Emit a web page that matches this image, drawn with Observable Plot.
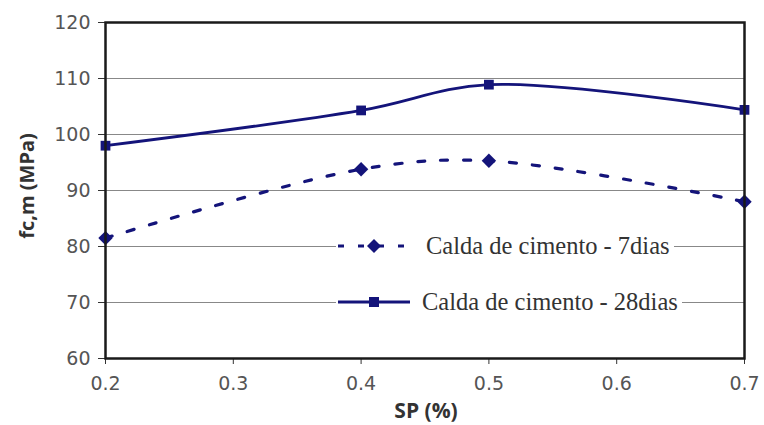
<!DOCTYPE html>
<html>
<head>
<meta charset="utf-8">
<script src="https://cdn.jsdelivr.net/npm/d3@7"></script>
<script src="https://cdn.jsdelivr.net/npm/@observablehq/plot@0.6"></script>
<style>
  body { margin: 0; background: #fff; }
  #wrap { position: relative; width: 764px; height: 425px; overflow: hidden; }
  .axlab { position: absolute; font-family: "Open Sans", sans-serif; font-weight: bold; color: #333; white-space: nowrap; line-height: 1; }
  .leg { position: absolute; display: flex; align-items: center; background: #fff; font-family: "Liberation Serif", "Times New Roman", serif; font-size: 24.5px; color: #333; white-space: nowrap; padding-right: 4px; }
  .leg svg { margin-right: 12px; }
</style>
</head>
<body>
<div id="wrap"></div>
<script>
const sp = [0.2, 0.4, 0.5, 0.7];
const fc7 = [81.5, 93.8, 95.3, 88.0];
const fc28 = [98.0, 104.3, 108.9, 104.4];
const seriesNames = ["Calda de cimento - 7dias", "Calda de cimento - 28dias"];
const xTicks = [0.2, 0.3, 0.4, 0.5, 0.6, 0.7];
const yTicks = [60, 70, 80, 90, 100, 110, 120];
const xLabel = "SP (%)";
const yLabel = "fc,m (MPa)";

const navy = "#14147a";
const d7 = sp.map((x, i) => ({x, y: fc7[i]}));
const d28 = sp.map((x, i) => ({x, y: fc28[i]}));

const plot = Plot.plot({
  width: 764,
  height: 425,
  marginLeft: 105,
  marginRight: 20,
  marginTop: 22,
  marginBottom: 67,
  style: {background: "#fff", fontFamily: "DejaVu Sans, sans-serif", fontSize: "19px", color: "#555"},
  x: {domain: [0.2, 0.7], ticks: xTicks, tickFormat: d => d.toFixed(1), label: null, tickSize: 6, tickPadding: 12},
  y: {domain: [60, 120], ticks: yTicks, label: null, tickSize: 7, tickPadding: 8},
  marks: [
    Plot.gridY(yTicks.slice(1, -1), {stroke: "#888", strokeOpacity: 1, strokeWidth: 1}),
    Plot.axisX({ticks: xTicks, tickFormat: d => d.toFixed(1), label: null, tickSize: 6, tickPadding: 12, stroke: "#333", fill: "#555"}),
    Plot.axisY({ticks: yTicks, label: null, tickSize: 7, tickPadding: 8, stroke: "#333", fill: "#555"}),
    Plot.line(d7, {x: "x", y: "y", curve: "catmull-rom", stroke: navy, strokeWidth: 3.2, strokeDasharray: "7,16"}),
    Plot.line(d28, {x: "x", y: "y", curve: "catmull-rom", stroke: navy, strokeWidth: 2.8}),
    Plot.dot(d7, {x: "x", y: "y", symbol: "diamond2", r: 6.5, fill: navy, stroke: "none"}),
    Plot.dot(d28, {x: "x", y: "y", symbol: "square", r: 5.5, fill: navy, stroke: "none"}),
    Plot.frame({stroke: "#1a1a1a", strokeWidth: 2.5})
  ]
});

const wrap = document.getElementById("wrap");
wrap.appendChild(plot);

// axis titles
const xl = document.createElement("div");
xl.className = "axlab";
xl.textContent = xLabel;
xl.style.fontSize = "21px";
xl.style.left = "426px"; xl.style.top = "410px";
xl.style.transform = "translate(-50%, -50%)";
wrap.appendChild(xl);

const yl = document.createElement("div");
yl.className = "axlab";
yl.textContent = yLabel;
yl.style.fontSize = "20px";
yl.style.left = "27px"; yl.style.top = "186px";
yl.style.transform = "translate(-50%, -50%) rotate(-90deg)";
wrap.appendChild(yl);

// legend
function legendItem(name, dashed, symbol, left, top, gap) {
  const div = document.createElement("div");
  div.className = "leg";
  div.style.left = left + "px"; div.style.top = top + "px";
  div.style.transform = "translateY(-50%)";
  const ns = "http://www.w3.org/2000/svg";
  const s = document.createElementNS(ns, "svg");
  s.setAttribute("width", 76); s.setAttribute("height", 14);
  s.style.marginRight = gap + "px";
  const ln = document.createElementNS(ns, "line");
  ln.setAttribute("x1", 2); ln.setAttribute("x2", 74); ln.setAttribute("y1", 7); ln.setAttribute("y2", 7);
  ln.setAttribute("stroke", navy); ln.setAttribute("stroke-width", 3);
  if (dashed) ln.setAttribute("stroke-dasharray", "6,14");
  s.appendChild(ln);
  let m;
  if (symbol === "square") {
    m = document.createElementNS(ns, "rect");
    m.setAttribute("x", 33); m.setAttribute("y", 2); m.setAttribute("width", 10); m.setAttribute("height", 10);
  } else {
    m = document.createElementNS(ns, "path");
    m.setAttribute("d", "M38,0 L45,7 L38,14 L31,7 Z");
  }
  m.setAttribute("fill", navy);
  s.appendChild(m);
  div.appendChild(s);
  const t = document.createElement("span");
  t.textContent = name;
  div.appendChild(t);
  wrap.appendChild(div);
}
legendItem(seriesNames[0], true, "diamond", 336, 246, 14);
legendItem(seriesNames[1], false, "square", 336, 302, 10);
</script>
</body>
</html>
